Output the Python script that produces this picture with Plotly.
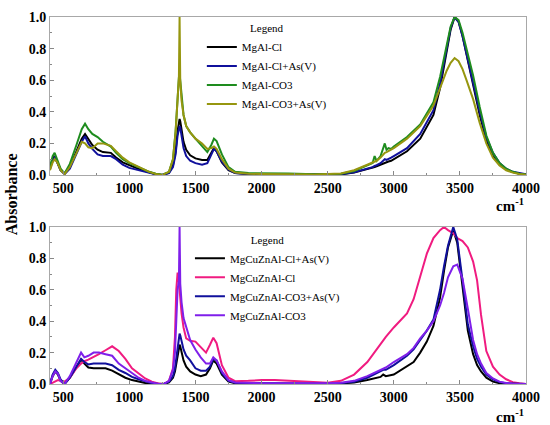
import plotly.graph_objects as go
from plotly.subplots import make_subplots

# FTIR spectra, values
wn_top = [400, 420, 435, 455, 480, 510, 550, 600, 640, 665, 690, 720, 760, 800, 860, 900, 950,
          1000, 1050, 1100, 1150, 1200, 1250, 1300, 1330, 1350, 1365, 1375, 1380, 1385, 1395,
          1410, 1430, 1460, 1500, 1550, 1590, 1620, 1640, 1660, 1700, 1750, 1800, 1900, 2000,
          2200, 2400, 2600, 2700, 2800, 2840, 2855, 2870, 2900, 2920, 2932, 2945, 2960, 2980,
          3000, 3100, 3200, 3300, 3350, 3400, 3430, 3460, 3490, 3520, 3550, 3600, 3650, 3700,
          3750, 3800, 3850, 3900, 3950, 4000]

mgal_cl = [0.04, 0.10, 0.12, 0.08, 0.03, 0.01, 0.05, 0.15, 0.23, 0.26, 0.23, 0.19, 0.16, 0.145,
           0.14, 0.11, 0.08, 0.06, 0.045, 0.03, 0.015, 0.005, 0.0, 0.015, 0.06, 0.15, 0.28, 0.34,
           0.355, 0.34, 0.28, 0.21, 0.16, 0.125, 0.105, 0.095, 0.095, 0.14, 0.17, 0.15, 0.08,
           0.03, 0.012, 0.006, 0.005, 0.004, 0.002, 0.004, 0.015, 0.035, 0.045, 0.05, 0.055,
           0.065, 0.075, 0.08, 0.08, 0.085, 0.09, 0.1, 0.15, 0.23, 0.38, 0.55, 0.78, 0.92, 1.0,
           0.97, 0.88, 0.76, 0.58, 0.38, 0.22, 0.12, 0.065, 0.035, 0.018, 0.008, 0.003]
mgal_cl_as = [0.04, 0.09, 0.11, 0.08, 0.03, 0.005, 0.04, 0.14, 0.21, 0.245, 0.2, 0.165, 0.13,
              0.12, 0.12, 0.1, 0.065, 0.045, 0.035, 0.025, 0.012, 0.004, 0.0, 0.012, 0.05, 0.13,
              0.25, 0.3, 0.31, 0.3, 0.24, 0.17, 0.12, 0.09, 0.075, 0.065, 0.075, 0.13, 0.165,
              0.15, 0.085, 0.035, 0.012, 0.006, 0.006, 0.005, 0.004, 0.005, 0.018, 0.04, 0.05,
              0.058, 0.062, 0.075, 0.09, 0.1, 0.095, 0.1, 0.11, 0.12, 0.17, 0.26, 0.41, 0.58,
              0.8, 0.93, 1.0, 0.97, 0.88, 0.77, 0.6, 0.4, 0.24, 0.14, 0.075, 0.04, 0.02, 0.01,
              0.004]
mgal_co3 = [0.05, 0.12, 0.14, 0.1, 0.04, 0.01, 0.07, 0.19, 0.29, 0.325, 0.29, 0.26, 0.24, 0.21,
            0.18, 0.14, 0.1, 0.075, 0.055, 0.04, 0.02, 0.008, 0.002, 0.02, 0.1, 0.28, 0.52,
            0.62, 0.64, 0.6, 0.48, 0.38, 0.31, 0.27, 0.23, 0.18, 0.145, 0.19, 0.23, 0.215,
            0.13, 0.05, 0.02, 0.012, 0.012, 0.01, 0.005, 0.008, 0.025, 0.06, 0.075, 0.12,
            0.09, 0.12, 0.17, 0.2, 0.16, 0.17, 0.165, 0.18, 0.24, 0.32, 0.46, 0.62, 0.82, 0.94,
            1.0, 0.98, 0.9, 0.8, 0.63, 0.43, 0.25, 0.14, 0.075, 0.04, 0.02, 0.008, 0.003]
mgal_co3_as = [0.03, 0.08, 0.1, 0.08, 0.03, 0.005, 0.05, 0.14, 0.21, 0.2, 0.175, 0.17, 0.2,
               0.2, 0.185, 0.15, 0.11, 0.08, 0.06, 0.04, 0.02, 0.006, 0.0, 0.02, 0.1, 0.27,
               0.5, 0.62, 1.0, 0.6, 0.47, 0.38, 0.31, 0.27, 0.23, 0.2, 0.165, 0.17, 0.18,
               0.165, 0.1, 0.04, 0.015, 0.008, 0.006, 0.004, 0.003, 0.01, 0.03, 0.065, 0.08,
               0.085, 0.09, 0.11, 0.13, 0.14, 0.145, 0.15, 0.16, 0.17, 0.23, 0.31, 0.44, 0.55,
               0.66, 0.71, 0.74, 0.72, 0.67, 0.6, 0.48, 0.33, 0.2, 0.11, 0.06, 0.03, 0.015,
               0.006, 0.002]

wn_bot = [400, 420, 440, 460, 480, 510, 550, 600, 635, 660, 690, 730, 770, 820, 870, 920, 970,
          1020, 1070, 1120, 1170, 1220, 1260, 1300, 1330, 1345, 1355, 1365, 1375, 1380, 1385,
          1395, 1410, 1430, 1460, 1500, 1540, 1580, 1610, 1635, 1660, 1700, 1750, 1800, 1900,
          2000, 2100, 2200, 2400, 2500, 2600, 2700, 2800, 2900, 2920, 2940, 3000, 3100, 3150,
          3200, 3250, 3300, 3350, 3380, 3410, 3450, 3480, 3520, 3560, 3600, 3630, 3660, 3700,
          3750, 3800, 3850, 3900, 3950, 4000]

cuzn_cl_as = [0.0, 0.05, 0.08, 0.06, 0.02, 0.0, 0.04, 0.11, 0.155, 0.13, 0.105, 0.1, 0.1, 0.1,
              0.085, 0.06, 0.04, 0.025, 0.015, 0.007, 0.003, 0.0, 0.0, 0.01, 0.04, 0.08, 0.13,
              0.19, 0.24, 0.25, 0.24, 0.2, 0.15, 0.11, 0.08, 0.06, 0.05, 0.06, 0.1, 0.15, 0.13,
              0.06, 0.015, 0.005, 0.003, 0.003, 0.002, 0.002, 0.0, 0.0, 0.003, 0.01, 0.025,
              0.045, 0.06, 0.05, 0.06, 0.11, 0.14, 0.2, 0.27, 0.37, 0.55, 0.72, 0.87, 0.98,
              0.9, 0.62, 0.34, 0.19, 0.12, 0.08, 0.04, 0.015, 0.005, 0.0, 0.0, 0.0, 0.0]
cuzn_cl = [0.0, 0.01, 0.02, 0.025, 0.02, 0.015, 0.04, 0.1, 0.13, 0.145, 0.155, 0.17, 0.19,
           0.215, 0.24, 0.21, 0.16, 0.1, 0.065, 0.035, 0.015, 0.003, 0.0, 0.02, 0.1, 0.3, 0.6,
           0.71, 0.65, 0.6, 0.55, 0.45, 0.36, 0.29, 0.275, 0.27, 0.235, 0.2, 0.25, 0.295, 0.26,
           0.12, 0.04, 0.018, 0.02, 0.025, 0.025, 0.02, 0.01, 0.008, 0.02, 0.06, 0.14, 0.26,
           0.28, 0.3, 0.36, 0.45, 0.54, 0.68, 0.83, 0.93, 0.98, 1.0, 0.98, 0.96, 0.93, 0.91,
           0.87, 0.78, 0.66, 0.44, 0.21, 0.11, 0.06, 0.03, 0.012, 0.005, 0.0]
cuzn_co3_as = [0.0, 0.06, 0.09, 0.07, 0.03, 0.0, 0.04, 0.11, 0.16, 0.14, 0.125, 0.13, 0.13,
               0.13, 0.12, 0.09, 0.07, 0.045, 0.03, 0.015, 0.005, 0.0, 0.0, 0.015, 0.05, 0.1,
               0.17, 0.25, 0.31, 0.32, 0.31, 0.27, 0.22, 0.18, 0.15, 0.1, 0.085, 0.085, 0.11,
               0.16, 0.15, 0.07, 0.02, 0.008, 0.005, 0.005, 0.004, 0.003, 0.002, 0.002, 0.005,
               0.015, 0.04, 0.08, 0.09, 0.09, 0.12, 0.18, 0.22, 0.28, 0.34, 0.41, 0.6, 0.75,
               0.88, 1.0, 0.92, 0.66, 0.38, 0.24, 0.16, 0.11, 0.06, 0.03, 0.012, 0.005, 0.002,
               0.0, 0.0]
cuzn_co3 = [0.0, 0.05, 0.08, 0.065, 0.02, 0.0, 0.05, 0.14, 0.2, 0.17, 0.18, 0.2, 0.2, 0.19,
            0.18, 0.13, 0.1, 0.065, 0.04, 0.02, 0.008, 0.0, 0.0, 0.02, 0.09, 0.2, 0.4, 0.6,
            0.66, 1.0, 0.64, 0.52, 0.42, 0.36, 0.28, 0.22, 0.17, 0.13, 0.13, 0.17, 0.15, 0.08,
            0.025, 0.01, 0.006, 0.005, 0.004, 0.003, 0.003, 0.004, 0.008, 0.02, 0.05, 0.09,
            0.1, 0.105, 0.14, 0.19, 0.23, 0.29, 0.34, 0.4, 0.5, 0.58, 0.68, 0.75, 0.76, 0.67,
            0.48, 0.28, 0.19, 0.13, 0.07, 0.035, 0.015, 0.006, 0.002, 0.0, 0.0]

top_series = [("MgAl-Cl", mgal_cl, "#000000"),
              ("MgAl-Cl+As(V)", mgal_cl_as, "#10109c"),
              ("MgAl-CO3", mgal_co3, "#1e8c1e"),
              ("MgAl-CO3+As(V)", mgal_co3_as, "#96960f")]
bot_series = [("MgCuZnAl-Cl+As(V)", cuzn_cl_as, "#000000"),
              ("MgCuZnAl-Cl", cuzn_cl, "#f01b80"),
              ("MgCuZnAl-CO3+As(V)", cuzn_co3_as, "#10109c"),
              ("MgCuZnAl-CO3", cuzn_co3, "#7f1fea")]

SERIF = "Liberation Serif"

fig = make_subplots(rows=2, cols=1)

for name, vals, col in top_series:
    fig.add_trace(go.Scatter(x=wn_top, y=vals, name=name, mode="lines",
                             line=dict(color=col, width=2), legend="legend"),
                  row=1, col=1)
for name, vals, col in bot_series:
    fig.add_trace(go.Scatter(x=wn_bot, y=vals, name=name, mode="lines",
                             line=dict(color=col, width=2), legend="legend2"),
                  row=2, col=1)

axis_font = dict(family=SERIF, size=14, color="#000000", weight="bold")
fig.update_xaxes(range=[400, 4000], tickvals=list(range(500, 4001, 500)),
                 ticks="inside", ticklen=4, tickcolor="#888888",
                 minor=dict(dtick=250, ticks="inside", ticklen=2, tickcolor="#888888"),
                 showline=True, mirror=True, linecolor="#a8a8a8", linewidth=1,
                 showgrid=False, zeroline=False, tickfont=axis_font)
fig.update_yaxes(range=[0, 1.0], dtick=0.2, tickformat=".1f",
                 ticks="inside", ticklen=4, tickcolor="#888888",
                 minor=dict(dtick=0.1, ticks="inside", ticklen=2, tickcolor="#888888"),
                 showline=True, mirror=True, linecolor="#a8a8a8", linewidth=1,
                 showgrid=False, zeroline=False, tickfont=axis_font)

legend_font = dict(family=SERIF, size=11, color="#000000")
label_font = dict(family=SERIF, size=15, color="#000000", weight="bold")
fig.update_layout(
    width=550, height=425,
    margin=dict(l=50, r=17, t=10, b=41),
    paper_bgcolor="white", plot_bgcolor="white",
    xaxis=dict(domain=[0, 1]),
    yaxis=dict(domain=[0.5695, 1.0]),
    xaxis2=dict(domain=[0, 1]),
    yaxis2=dict(domain=[0, 0.4278]),
    legend=dict(x=0.319, y=0.997, xanchor="left", yanchor="top", bgcolor="rgba(0,0,0,0)",
                font=legend_font, title=dict(text="Legend", side="top center", font=legend_font)),
    legend2=dict(x=0.294, y=0.421, xanchor="left", yanchor="top", bgcolor="rgba(0,0,0,0)",
                 font=legend_font, title=dict(text="Legend", side="top center", font=legend_font)),
    annotations=[
        dict(text="Absorbance", x=-0.0807, y=0.516, xref="paper", yref="paper", textangle=-90,
             xanchor="center", yanchor="middle", showarrow=False,
             font=dict(family=SERIF, size=16, color="#000000", weight="bold")),
        dict(text="cm<sup>-1</sup>", x=1.0, y=0.5187, xref="paper", yref="paper",
             xanchor="right", yanchor="top", showarrow=False, font=label_font),
        dict(text="cm<sup>-1</sup>", x=1.0, y=-0.0561, xref="paper", yref="paper",
             xanchor="right", yanchor="top", showarrow=False, font=label_font),
    ],
)

# drop the default 8px body margin so the figure sits at the window corner
fig.write_html("out.html", config={"displayModeBar": False},
               post_script="document.body.style.margin = '0px';")
